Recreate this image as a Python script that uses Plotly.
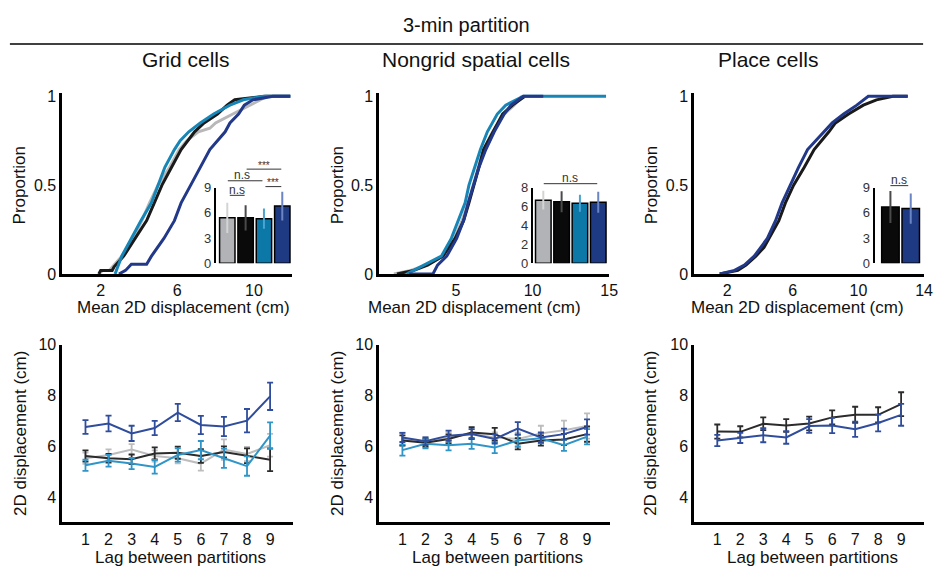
import plotly.graph_objects as go

W, H = 942, 579
def px(x): return x / W
def py(y): return 1 - y / H

FONT = "Liberation Sans, Arial, sans-serif"

# ---------------- colours ----------------
C_GRAY, C_BLACK, C_BLUE, C_NAVY = "#b8b8b8", "#1a1a1a", "#1785b5", "#22398a"
B_GRAY, B_BLACK, B_BLUE, B_NAVY = "#b1b3b6", "#0a0a0a", "#0c78a8", "#1e3a82"
E_GRAY, E_BLACK, E_BLUE, E_NAVY = "#d4d4d4", "#4a4a4a", "#4aa3d0", "#6a84c4"
L_GRAY, L_BLACK, L_BLUE, L_NAVY = "#bdbdbd", "#2b2b2b", "#2f95c8", "#2f4d9c"

# ---------------- cumulative distributions (x in cm, proportion) ----------------
grid_gray_x = [1.9, 2.1, 2.45, 3.1, 3.7, 4.15, 4.55, 5.0, 5.6, 6.1, 6.5, 7.1, 7.7, 8.0, 8.9, 9.8, 10.3, 10.7]
grid_gray_p = [0, 0.02, 0.02, 0.1, 0.2, 0.3, 0.4, 0.5, 0.6, 0.7, 0.75, 0.8, 0.82, 0.85, 0.9, 0.95, 0.98, 1.0]
grid_black_x = [1.9, 2.0, 2.6, 2.7, 3.2, 3.8, 4.4, 4.8, 5.2, 5.7, 6.2, 6.9, 7.4, 8.1, 8.6, 9.0, 10.6, 11.9]
grid_black_p = [0, 0.02, 0.02, 0.04, 0.1, 0.2, 0.3, 0.4, 0.5, 0.6, 0.7, 0.8, 0.85, 0.9, 0.95, 0.98, 1.0, 1.0]
grid_blue_x = [2.75, 2.85, 3.1, 3.6, 4.1, 4.65, 5.0, 5.35, 5.85, 6.15, 6.6, 7.2, 7.9, 8.75, 9.45, 10.5, 11.9]
grid_blue_p = [0, 0.03, 0.1, 0.2, 0.3, 0.4, 0.5, 0.6, 0.7, 0.75, 0.8, 0.85, 0.9, 0.95, 0.98, 1.0, 1.0]
grid_navy_x = [2.95, 3.3, 3.6, 4.4, 4.65, 5.3, 5.85, 6.2, 6.7, 7.2, 7.7, 8.5, 8.75, 9.2, 9.5, 9.95, 11.0, 11.9]
grid_navy_p = [0, 0.02, 0.055, 0.055, 0.1, 0.2, 0.3, 0.4, 0.5, 0.6, 0.7, 0.8, 0.85, 0.9, 0.95, 0.98, 1.0, 1.0]

ng_gray_x = [0.95, 2.05, 3.05, 4.15, 4.9, 5.4, 5.8, 6.1, 6.45, 6.8, 7.4, 8.15, 8.8, 9.3]
ng_gray_p = [0, 0.02, 0.05, 0.1, 0.2, 0.3, 0.4, 0.5, 0.6, 0.7, 0.8, 0.9, 0.95, 1.0]
ng_black_x = [1.15, 2.25, 3.15, 4.15, 4.95, 5.5, 5.85, 6.15, 6.5, 6.8, 7.4, 8.05, 8.7, 9.15, 9.5]
ng_black_p = [0, 0.02, 0.05, 0.1, 0.2, 0.3, 0.4, 0.5, 0.6, 0.7, 0.8, 0.9, 0.95, 0.98, 1.0]
ng_blue_x = [1.8, 2.25, 2.95, 4.05, 4.7, 5.15, 5.6, 5.85, 6.2, 6.6, 7.05, 7.7, 8.25, 9.4, 14.8]
ng_blue_p = [0, 0.02, 0.05, 0.1, 0.2, 0.3, 0.4, 0.5, 0.6, 0.7, 0.8, 0.9, 0.95, 1.0, 1.0]
ng_navy_x = [1.95, 3.5, 3.8, 4.4, 5.05, 5.5, 5.8, 6.15, 6.5, 6.95, 7.5, 8.15, 8.6, 9.4, 10.7]
ng_navy_p = [0, 0, 0.05, 0.1, 0.2, 0.3, 0.4, 0.5, 0.6, 0.7, 0.8, 0.9, 0.95, 1.0, 1.0]

pl_black_x = [1.55, 2.65, 3.15, 3.75, 4.25, 4.55, 5.15, 5.55, 6.05, 6.7, 7.3, 8.2, 8.6, 9.4, 10.3, 11.1, 12.1, 13.0]
pl_black_p = [0, 0.02, 0.05, 0.1, 0.15, 0.2, 0.3, 0.4, 0.5, 0.6, 0.7, 0.8, 0.85, 0.9, 0.95, 0.98, 1.0, 1.0]
pl_navy_x = [1.55, 2.45, 3.05, 3.65, 4.05, 4.45, 4.95, 5.35, 5.85, 6.35, 6.9, 7.9, 8.4, 9.1, 9.9, 10.6, 13.0]
pl_navy_p = [0, 0.02, 0.05, 0.1, 0.15, 0.2, 0.3, 0.4, 0.5, 0.6, 0.7, 0.8, 0.85, 0.9, 0.95, 1.0, 1.0]

# ---------------- inset bar values (mean, error) ----------------
grid_bar_means = [5.4, 5.4, 5.3, 6.8]
grid_bar_errs = [1.8, 1.5, 1.2, 1.7]
ng_bar_means = [6.67, 6.5, 6.35, 6.45]
ng_bar_errs = [1.0, 1.1, 0.9, 1.1]
pl_bar_means = [6.7, 6.5]
pl_bar_errs = [1.9, 1.8]

# ---------------- lag curves ----------------
lags = [1, 2, 3, 4, 5, 6, 7, 8, 9]
grid_lag_navy = [6.76, 6.90, 6.51, 6.72, 7.33, 6.84, 6.78, 7.01, 7.97]
grid_lag_navy_e = [0.27, 0.31, 0.30, 0.28, 0.34, 0.36, 0.38, 0.46, 0.54]
grid_lag_black = [5.62, 5.53, 5.49, 5.72, 5.75, 5.62, 5.78, 5.63, 5.47]
grid_lag_black_e = [0.22, 0.17, 0.19, 0.24, 0.24, 0.27, 0.22, 0.29, 0.45]
grid_lag_gray = [5.53, 5.66, 5.87, 5.62, 5.53, 5.32, 5.87, 5.70, 6.04]
grid_lag_gray_e = [0.22, 0.22, 0.22, 0.22, 0.2, 0.28, 0.4, 0.28, 0.45]
grid_lag_blue = [5.25, 5.43, 5.32, 5.19, 5.66, 5.85, 5.53, 5.22, 6.42]
grid_lag_blue_e = [0.22, 0.23, 0.22, 0.27, 0.26, 0.36, 0.38, 0.38, 0.52]

ng_lag_gray = [6.29, 6.16, 6.35, 6.48, 6.35, 6.29, 6.51, 6.63, 6.80]
ng_lag_gray_e = [0.25, 0.2, 0.2, 0.2, 0.2, 0.25, 0.3, 0.38, 0.5]
ng_lag_black = [6.23, 6.14, 6.29, 6.54, 6.48, 6.10, 6.23, 6.27, 6.48]
ng_lag_black_e = [0.2, 0.15, 0.18, 0.22, 0.25, 0.22, 0.2, 0.22, 0.3]
ng_lag_blue = [5.85, 6.10, 6.04, 6.10, 5.95, 6.23, 6.32, 6.04, 6.38]
ng_lag_blue_e = [0.22, 0.18, 0.2, 0.2, 0.22, 0.25, 0.2, 0.22, 0.3]
ng_lag_navy = [6.35, 6.20, 6.42, 6.48, 6.29, 6.70, 6.35, 6.48, 6.76]
ng_lag_navy_e = [0.18, 0.15, 0.2, 0.2, 0.18, 0.25, 0.2, 0.22, 0.3]

pl_lag_black = [6.58, 6.57, 6.89, 6.82, 6.90, 7.14, 7.24, 7.24, 7.66]
pl_lag_black_e = [0.28, 0.22, 0.25, 0.25, 0.27, 0.28, 0.32, 0.3, 0.47]
pl_lag_navy = [6.23, 6.33, 6.44, 6.35, 6.80, 6.82, 6.67, 6.92, 7.24]
pl_lag_navy_e = [0.22, 0.2, 0.28, 0.25, 0.27, 0.3, 0.3, 0.33, 0.43]

# tick settings
cdf_xticks = [[2, 6, 10], [5, 10, 15], [2, 6, 10, 14]]
cdf_xranges = [[0, 12], [0, 15], [0, 14]]
inset_yticks = [[0, 3, 6, 9], [0, 2, 4, 6, 8], [0, 3, 6, 9]]
inset_yranges = [[0, 9], [0, 8], [0, 9]]

fig = go.Figure()

def cdf(x, p, color, ax):
    fig.add_trace(go.Scatter(x=x, y=p, mode="lines", line=dict(color=color, width=3),
                             xaxis="x" + ax, yaxis="y" + ax, showlegend=False, hoverinfo="skip"))

cdf(grid_gray_x, grid_gray_p, C_GRAY, "")
cdf(grid_black_x, grid_black_p, C_BLACK, "")
cdf(grid_blue_x, grid_blue_p, C_BLUE, "")
cdf(grid_navy_x, grid_navy_p, C_NAVY, "")
cdf(ng_gray_x, ng_gray_p, C_GRAY, "2")
cdf(ng_black_x, ng_black_p, C_BLACK, "2")
cdf(ng_blue_x, ng_blue_p, C_BLUE, "2")
cdf(ng_navy_x, ng_navy_p, C_NAVY, "2")
cdf(pl_black_x, pl_black_p, C_BLACK, "3")
cdf(pl_navy_x, pl_navy_p, C_NAVY, "3")

def bar(vals, errs, colors, ecolors, ax, width):
    for i, (v, e, c, ec) in enumerate(zip(vals, errs, colors, ecolors)):
        fig.add_trace(go.Bar(x=[i + 1], y=[v], width=width, marker=dict(color=c, line=dict(color="#000", width=1.5)),
                             error_y=dict(type="data", array=[e], color=ec, thickness=2, width=0),
                             xaxis="x" + ax, yaxis="y" + ax, showlegend=False, hoverinfo="skip"))

bar(grid_bar_means, grid_bar_errs, [B_GRAY, B_BLACK, B_BLUE, B_NAVY], [E_GRAY, E_BLACK, E_BLUE, E_NAVY], "4", 0.84)
bar(ng_bar_means, ng_bar_errs, [B_GRAY, B_BLACK, B_BLUE, B_NAVY], [E_GRAY, E_BLACK, E_BLUE, E_NAVY], "5", 0.85)
bar(pl_bar_means, pl_bar_errs, [B_BLACK, B_NAVY], [E_BLACK, E_NAVY], "6", 0.86)

def lag(y, e, color, ax):
    fig.add_trace(go.Scatter(x=lags, y=y, mode="lines", line=dict(color=color, width=2),
                             error_y=dict(type="data", array=e, color=color, thickness=1.8, width=3),
                             xaxis="x" + ax, yaxis="y" + ax, showlegend=False, hoverinfo="skip"))

lag(grid_lag_gray, grid_lag_gray_e, L_GRAY, "7")
lag(grid_lag_black, grid_lag_black_e, L_BLACK, "7")
lag(grid_lag_blue, grid_lag_blue_e, L_BLUE, "7")
lag(grid_lag_navy, grid_lag_navy_e, L_NAVY, "7")
lag(ng_lag_gray, ng_lag_gray_e, L_GRAY, "8")
lag(ng_lag_black, ng_lag_black_e, L_BLACK, "8")
lag(ng_lag_blue, ng_lag_blue_e, L_BLUE, "8")
lag(ng_lag_navy, ng_lag_navy_e, L_NAVY, "8")
lag(pl_lag_black, pl_lag_black_e, L_BLACK, "9")
lag(pl_lag_navy, pl_lag_navy_e, L_NAVY, "9")

axbase = dict(showline=True, linecolor="black", linewidth=3, ticks="", showgrid=False, zeroline=False,
              tickfont=dict(size=16, color="#111", family=FONT), fixedrange=True)

panels_x = [(63, 295), (383, 615), (701, 933)]
layout = {}
for i, (x0, x1) in enumerate(panels_x):
    sfx = "" if i == 0 else str(i + 1)
    layout["xaxis" + sfx] = dict(axbase, domain=[px(x0), px(x1)], range=cdf_xranges[i], tickvals=cdf_xticks[i],
                                 anchor="y" + sfx)
    layout["yaxis" + sfx] = dict(axbase, domain=[py(274), py(88)], range=[0, 1.016], tickvals=[0, 0.5, 1],
                                 ticktext=["0", "0.5", "1"], anchor="x" + sfx)

insets = [((218, 295), [0.38, 4.54]), ((538, 614), [0.43, 4.54]), ((883, 930), [0.22, 2.51])]
for i, ((x0, x1), rng) in enumerate(insets):
    n = str(i + 4)
    layout["xaxis" + n] = dict(domain=[px(x0), px(x1)], range=rng, visible=False, anchor="y" + n, fixedrange=True)
    layout["yaxis" + n] = dict(axbase, domain=[py(263), py(185)], range=inset_yranges[i], tickvals=inset_yticks[i],
                               linewidth=2, tickfont=dict(size=13, color="#333", family=FONT), anchor="x" + n)

bottoms = [(63, 296), (383, 616), (701, 933)]
for i, (x0, x1) in enumerate(bottoms):
    n = str(i + 7)
    layout["xaxis" + n] = dict(axbase, domain=[px(x0), px(x1)], range=[0, 10], tickvals=lags, anchor="y" + n)
    layout["yaxis" + n] = dict(axbase, domain=[py(530), py(347)], range=[3, 10], tickvals=[4, 6, 8, 10], anchor="x" + n)

ann = []
def text(x, y, s, size=17, angle=0, color="#111"):
    ann.append(dict(x=px(x), y=py(y), xref="paper", yref="paper", text=s, showarrow=False, textangle=angle,
                    font=dict(size=size, color=color, family=FONT), xanchor="center", yanchor="middle"))

text(471, 18, "3-min partition", 20)
text(188, 53, "Grid cells", 21)
text(481, 53, "Nongrid spatial cells", 21)
text(775, 53, "Place cells", 21)
for xc in (20, 341, 658):
    text(xc, 183, "Proportion", 17, -90)
for xc in (185, 479, 805):
    text(xc, 309, "Mean 2D displacement (cm)", 17)
for xc in (20, 340, 656):
    text(xc, 438, "2D displacement (cm)", 17, -90)
for xc in (182, 502, 820):
    text(xc, 566, "Lag between partitions", 17)

# significance marks
shapes = [dict(type="line", xref="paper", yref="paper", x0=px(10), x1=px(932), y0=py(37), y1=py(37),
               line=dict(color="black", width=1.5))]
sig = [((232, 247), 193, "n.s", 239, 188, 12), ((230, 265), 178, "n.s", 244, 172, 12),
       ((249, 284), 166, "***", 267, 162, 10), ((268, 284), 184, "***", 276, 180, 10),
       ((549, 603), 181, "n.s", 576, 175, 12), ((899, 917), 183, "n.s", 908, 177, 12)]
for (sx0, sx1), sy, s, tx, ty, fs in sig:
    shapes.append(dict(type="line", xref="paper", yref="paper", x0=px(sx0), x1=px(sx1), y0=py(sy), y1=py(sy),
                       line=dict(color="#333", width=1)))
    text(tx, ty, s, fs, 0, "#333")

fig.update_layout(width=W, height=H, margin=dict(l=0, r=0, t=0, b=0), plot_bgcolor="white", paper_bgcolor="white",
                  showlegend=False, barmode="overlay", annotations=ann, shapes=shapes,
                  font=dict(family=FONT), **layout)

page_fix = ("document.documentElement.style.margin='0';document.body.style.margin='0';"
            "document.body.style.padding='0';var d=document.getElementById('{plot_id}');"
            "d.style.position='absolute';d.style.left='0px';d.style.top='0px';")
fig.write_html("out.html", post_script=page_fix, config={"displayModeBar": False})
